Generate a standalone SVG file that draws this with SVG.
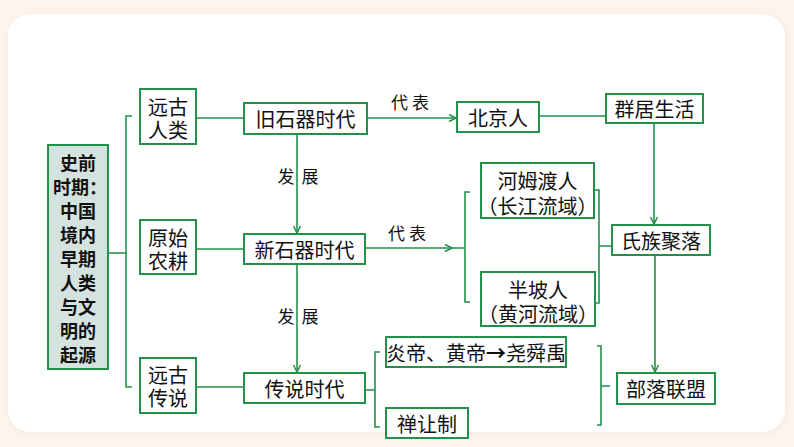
<svg xmlns="http://www.w3.org/2000/svg" width="794" height="447" viewBox="0 0 794 447">
<style>
.bx{fill:#fff;stroke:#23904a;stroke-width:2}
.ln{fill:none;stroke:#23904a;stroke-width:1.6}
.t{font-family:"Noto Sans CJK SC","Noto Sans",sans-serif;font-size:20px;fill:#111;text-anchor:middle;dominant-baseline:central}
.tb{font-family:"Noto Sans CJK SC","Noto Sans",sans-serif;font-size:18px;font-weight:bold;fill:#111;text-anchor:middle;dominant-baseline:central}
.lb{font-family:"Noto Sans CJK SC","Noto Sans",sans-serif;font-size:17px;fill:#111;text-anchor:middle;dominant-baseline:central}
</style>
<defs>
<marker id="ah" markerWidth="10" markerHeight="10" refX="8" refY="4" orient="auto" markerUnits="userSpaceOnUse">
<path d="M1,0.5 L8,4 L1,7.5" fill="none" stroke="#23904a" stroke-width="1.5"/>
</marker>
<filter id="sh" x="-5%" y="-5%" width="110%" height="110%">
<feGaussianBlur stdDeviation="3"/>
</filter>
</defs>
<rect width="794" height="447" fill="#fcf4ee"/>
<rect x="9" y="15" width="777" height="418" rx="22" fill="#f5e6dc" filter="url(#sh)"/>
<rect x="8" y="14" width="777" height="418" rx="22" fill="#fff"/>

<g id="connectors">
<path class="ln" d="M108,253 H126 M132,116 H126 V387 H132"/>
<path class="ln" d="M196,118 H244"/>
<path class="ln" d="M196,249 H244"/>
<path class="ln" d="M196,387 H244"/>
<path class="ln" d="M367,118 H456" marker-end="url(#ah)"/>
<path class="ln" d="M297,134 V233" marker-end="url(#ah)"/>
<path class="ln" d="M365,248 H452" marker-end="url(#ah)"/>
<path class="ln" d="M452,248 H465 M470,192 H465 V302 H470"/>
<path class="ln" d="M595,190 H599 V303 H595 M599,246 H612"/>
<path class="ln" d="M539,116 H606"/>
<path class="ln" d="M654,123 V224" marker-end="url(#ah)"/>
<path class="ln" d="M655,255 V372" marker-end="url(#ah)"/>
<path class="ln" d="M297,264 V372" marker-end="url(#ah)"/>
<path class="ln" d="M365,390 H375 M380,352 H375 V427 H380"/>
<path class="ln" d="M597,346 H601 V425 H597 M601,386 H610"/>
<text class="lb" x="412" y="101" letter-spacing="4">代表</text>
<text class="lb" x="409" y="232" letter-spacing="4">代表</text>
<text class="lb" y="175"><tspan x="286">发</tspan><tspan x="310">展</tspan></text>
<text class="lb" y="315"><tspan x="286">发</tspan><tspan x="310">展</tspan></text>
</g>

<g id="n-root">
<rect x="48" y="145" width="60" height="224" fill="#d4e3df" stroke="#23904a" stroke-width="2"/>
<text class="tb" y="162"><tspan x="78">史前</tspan><tspan x="80" dy="24">时期：</tspan><tspan x="78" dy="24">中国</tspan><tspan x="78" dy="24">境内</tspan><tspan x="78" dy="24">早期</tspan><tspan x="78" dy="24">人类</tspan><tspan x="78" dy="24">与文</tspan><tspan x="78" dy="24">明的</tspan><tspan x="78" dy="24">起源</tspan></text>
</g>

<g id="n-yuangurenlei">
<rect class="bx" x="140" y="89" width="56" height="55"/>
<text class="t" y="106"><tspan x="168">远古</tspan><tspan x="168" dy="23">人类</tspan></text>
</g>
<g id="n-yuanshinonggeng">
<rect class="bx" x="140" y="220" width="56" height="54"/>
<text class="t" y="237"><tspan x="168">原始</tspan><tspan x="168" dy="23">农耕</tspan></text>
</g>
<g id="n-yuanguchuanshuo">
<rect class="bx" x="140" y="358" width="56" height="55"/>
<text class="t" y="374"><tspan x="168">远古</tspan><tspan x="168" dy="23">传说</tspan></text>
</g>

<g id="n-jiushiqi">
<rect class="bx" x="244" y="103" width="123" height="31"/>
<text class="t" x="305.5" y="118.5">旧石器时代</text>
</g>
<g id="n-xinshiqi">
<rect class="bx" x="244" y="234" width="121" height="30"/>
<text class="t" x="304.5" y="249">新石器时代</text>
</g>
<g id="n-chuanshuo">
<rect class="bx" x="244" y="373" width="121" height="30"/>
<text class="t" x="304.5" y="388">传说时代</text>
</g>

<g id="n-beijingren">
<rect class="bx" x="457" y="102" width="82" height="30"/>
<text class="t" x="498" y="117">北京人</text>
</g>
<g id="n-qunju">
<rect class="bx" x="606" y="94" width="97" height="29"/>
<text class="t" x="654.5" y="108.5">群居生活</text>
</g>
<g id="n-hemudu">
<rect class="bx" x="481" y="163" width="113" height="55"/>
<text class="t" y="180"><tspan x="537.5">河姆渡人</tspan><tspan x="537.5" dy="25">（长江流域）</tspan></text>
</g>
<g id="n-banpo">
<rect class="bx" x="481" y="272" width="114" height="54"/>
<text class="t" y="289"><tspan x="538">半坡人</tspan><tspan x="538" dy="24">（黄河流域）</tspan></text>
</g>
<g id="n-shizu">
<rect class="bx" x="612" y="225" width="98" height="30"/>
<text class="t" x="661" y="240">氏族聚落</text>
</g>
<g id="n-buluo">
<rect class="bx" x="617" y="373" width="98" height="31"/>
<text class="t" x="666" y="388.5">部落联盟</text>
</g>
<g id="n-yandi">
<rect class="bx" x="386" y="337" width="180" height="30"/>
<text class="t" x="476" y="352">炎帝、黄帝<tspan font-weight="bold">→</tspan>尧舜禹</text>
</g>
<g id="n-shanrang">
<rect class="bx" x="386" y="408" width="82" height="30"/>
<text class="t" x="427" y="423">禅让制</text>
</g>
</svg>
